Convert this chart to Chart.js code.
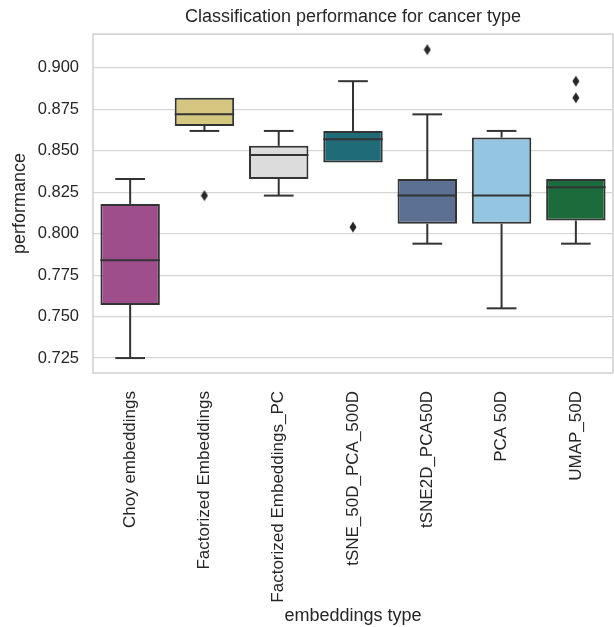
<!DOCTYPE html>
<html>
<head>
<meta charset="utf-8">
<script src="https://cdn.jsdelivr.net/npm/chart.js@4.4.1/dist/chart.umd.min.js"></script>
<style>
  html, body { margin: 0; padding: 0; background: #fff; overflow: hidden; }
  #wrap { width: 614px; height: 627px; overflow: hidden; position: relative; }
  #chart { position: absolute; left: 0; top: 0; }
</style>
</head>
<body>
<div id="wrap"><canvas id="chart" width="619" height="627"></canvas></div>
<script>
const categories = ['Choy embeddings', 'Factorized Embeddings', 'Factorized Embeddings_PC',
  'tSNE_50D_PCA_500D', 'tSNE2D_PCA50D', 'PCA 50D', 'UMAP_50D'];
const whiskerLow  = [0.725, 0.862, 0.823, 0.843, 0.794, 0.755, 0.794];
const q1          = [0.757, 0.865, 0.833, 0.843, 0.806, 0.806, 0.808];
const median      = [0.784, 0.872, 0.8475, 0.857, 0.823, 0.823, 0.828];
const q3          = [0.818, 0.882, 0.853, 0.862, 0.833, 0.858, 0.833];
const whiskerHigh = [0.833, 0.882, 0.862, 0.892, 0.872, 0.862, 0.833];
const outlierCats   = ['Factorized Embeddings', 'tSNE_50D_PCA_500D', 'tSNE2D_PCA50D', 'UMAP_50D', 'UMAP_50D'];
const outlierValues = [0.823, 0.804, 0.911, 0.892, 0.882];
const yTicks = [0.725, 0.750, 0.775, 0.800, 0.825, 0.850, 0.875, 0.900];
const boxColors = ['#9e4f8b', '#d5c77f', '#dcdcdc', '#1f6b78', '#5b7092', '#94c6e1', '#1c6b3b'];

const lineColor = '#333333';
const textColor = '#262626';
const family = 'Liberation Sans, Arial, sans-serif';
const plotRight = 619; // right edge of the axes sits just past the window

// thin diamond marker like seaborn's 'd'
const diamond = document.createElement('canvas');
diamond.width = 8; diamond.height = 12;
const dctx = diamond.getContext('2d');
dctx.fillStyle = '#262626';
dctx.beginPath();
dctx.moveTo(4, 0.5); dctx.lineTo(7.5, 6); dctx.lineTo(4, 11.5); dctx.lineTo(0.5, 6);
dctx.closePath(); dctx.fill();

const framePlugin = {
  id: 'frame',
  beforeDatasetsDraw(chart) {
    const { ctx, chartArea: a } = chart;
    ctx.save();
    ctx.strokeStyle = '#cfcfcf';
    ctx.lineWidth = 1.5;
    ctx.strokeRect(a.left, a.top, a.right - a.left, a.bottom - a.top);
    ctx.restore();
  }
};

const whiskerPlugin = {
  id: 'whiskers',
  afterDatasetsDraw(chart) {
    const { ctx } = chart;
    const y = chart.scales.y;
    const bars = chart.getDatasetMeta(0).data;
    ctx.save();
    ctx.strokeStyle = lineColor;
    ctx.lineWidth = 2;
    bars.forEach((bar, i) => {
      const x = bar.x, half = bar.width / 2;
      const segs = [];
      // median
      segs.push([x - half, y.getPixelForValue(median[i]), x + half, y.getPixelForValue(median[i])]);
      if (whiskerHigh[i] > q3[i]) {
        const top = y.getPixelForValue(whiskerHigh[i]);
        segs.push([x, y.getPixelForValue(q3[i]), x, top]);
        segs.push([x - half / 2, top, x + half / 2, top]);
      }
      if (whiskerLow[i] < q1[i]) {
        const bot = y.getPixelForValue(whiskerLow[i]);
        segs.push([x, y.getPixelForValue(q1[i]), x, bot]);
        segs.push([x - half / 2, bot, x + half / 2, bot]);
      }
      segs.forEach(s => {
        ctx.beginPath();
        ctx.moveTo(s[0], s[1]);
        ctx.lineTo(s[2], s[3]);
        ctx.stroke();
      });
    });
    ctx.restore();
  }
};

const chart = new Chart(document.getElementById('chart'), {
  type: 'bar',
  data: {
    labels: categories,
    datasets: [{
      data: categories.map((c, i) => [q1[i], q3[i]]),
      backgroundColor: boxColors,
      borderColor: lineColor,
      borderWidth: 2,
      borderSkipped: false,
      categoryPercentage: 0.8,
      barPercentage: 1
    }, {
      type: 'line',
      data: outlierCats.map((c, i) => ({ x: c, y: outlierValues[i] })),
      showLine: false,
      pointStyle: diamond,
      pointRadius: 5
    }]
  },
  options: {
    responsive: false,
    animation: false,
    layout: { padding: 0 },
    plugins: {
      legend: { display: false },
      tooltip: { enabled: false },
      title: {
        display: true,
        fullSize: false,
        text: 'Classification performance for cancer type',
        color: textColor,
        font: { family, size: 18, weight: 'normal' },
        padding: { top: 6, bottom: 6.5 }
      }
    },
    scales: {
      x: {
        grid: { display: false, drawTicks: false },
        border: { display: false },
        ticks: { color: textColor, font: { family, size: 17 }, minRotation: 90, maxRotation: 90, padding: 18, autoSkip: false },
        title: { display: true, text: 'embeddings type', color: textColor, font: { family, size: 18 }, padding: 0 },
        afterFit(scale) {
          scale.height = 254;
          scale.paddingLeft = 0;
          scale.paddingRight = 0;
        }
      },
      y: {
        min: 0.716,
        max: 0.9204,
        grid: { color: '#d6d6d6', lineWidth: 1.3, drawTicks: false },
        border: { display: false },
        ticks: { color: textColor, font: { family, size: 16.5 }, padding: 14, callback: v => v.toFixed(3) },
        afterBuildTicks(scale) { scale.ticks = yTicks.map(v => ({ value: v })); },
        title: { display: true, text: 'performance', color: textColor, font: { family, size: 18 }, padding: { top: 9 } },
        afterFit(scale) { scale.width = 93; }
      }
    }
  },
  plugins: [framePlugin, whiskerPlugin]
});

// if something still reserves room on the right, widen the canvas to push the axes edge out
const extra = plotRight - chart.chartArea.right;
if (extra > 0.5) chart.resize(Math.round(619 + extra), 627);
</script>
</body>
</html>
